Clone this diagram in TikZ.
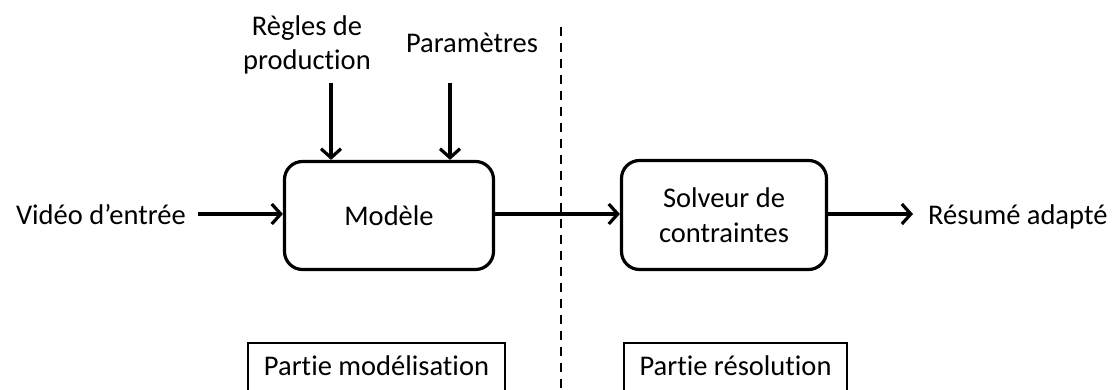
\documentclass[tikz,border=0pt]{standalone}
\usepackage{fontspec}
\setmainfont{Carlito}[Ligatures={NoCommon}]
\usetikzlibrary{arrows.meta}
\begin{document}
\begin{tikzpicture}[x=1pt,y=-1pt,
  every node/.style={font=\fontsize{28.5}{34.8}\selectfont, inner sep=0pt},
  block/.style={draw, line width=3.2pt, rounded corners=18pt, align=center},
  part/.style={draw, line width=1.6pt},
  flow/.style={line width=3.2pt, -{Straight Barb[length=9pt,width=20pt,line width=3.2pt]}},
  divider/.style={line width=2.6pt, dash pattern=on 9pt off 7pt}]
  \useasboundingbox (0,0) rectangle (1113,390);

  % processing blocks
  \node[block, minimum width=209pt, minimum height=108pt] (model) at (389,215.5) {Modèle};
  \node[block, minimum width=205pt, minimum height=109pt] (solver) at (724,215) {Solveur de\\contraintes};

  % inputs and output
  \node[anchor=base east] (video) at (186,224) {Vidéo d’entrée};
  \node[anchor=base west] (summary) at (928,224) {Résumé adapté};
  \node[align=center, anchor=base] (rules) at (307,70) {Règles de\\production};
  \node[anchor=base] (params) at (472,53) {Paramètres};

  \coordinate (videoout) at (198,214);
  \coordinate (summaryin) at (913,214);
  \coordinate (rulesout) at (331,83);
  \coordinate (paramsout) at (450,83);

  % connectors
  \draw[flow] (videoout) -- (videoout -| model.west);
  \draw[flow] (model.east |- 0,214) -- (solver.west |- 0,214);
  \draw[flow] (solver.east |- 0,214) -- (summaryin);
  \draw[flow] (rulesout) -- (rulesout |- model.north);
  \draw[flow] (paramsout) -- (paramsout |- model.north);

  % separation between the two parts
  \coordinate (divtop) at (561,27);
  \coordinate (divbot) at (561,392);
  \draw[divider] (divtop) -- (divbot);

  % part labels
  \draw[part] (248,400) |- (505,343) -- (505,400);
  \node[anchor=base] (modpart) at (376.5,375) {Partie modélisation};
  \draw[part] (624,400) |- (847,343) -- (847,400);
  \node[anchor=base] (respart) at (735.5,375) {Partie résolution};
\end{tikzpicture}
\end{document}
